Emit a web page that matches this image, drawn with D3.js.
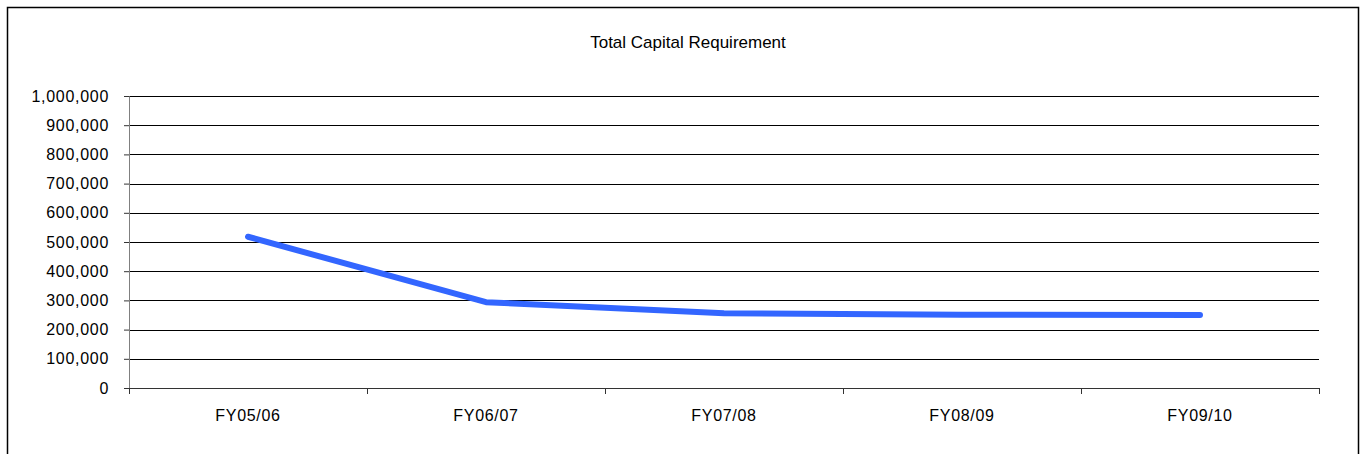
<!DOCTYPE html>
<html>
<head>
<meta charset="utf-8">
<script src="https://cdn.jsdelivr.net/npm/d3@7"></script>
<style>
  body { margin: 0; background: #fff; }
  text { font-family: "Liberation Sans", Arial, sans-serif; fill: #000; }
</style>
</head>
<body>
<script>
// data
var years = ["FY05/06", "FY06/07", "FY07/08", "FY08/09", "FY09/10"];
var capital = [518000, 294000, 256000, 251000, 250000];
var yTicks = [0, 100000, 200000, 300000, 400000, 500000, 600000, 700000, 800000, 900000, 1000000];

var W = 1360, H = 454;
var margin = { top: 96, right: 41, bottom: 66, left: 129 },
    width = W - margin.left - margin.right,
    height = H - margin.top - margin.bottom;

var svg = d3.select("body").append("svg")
    .attr("width", W)
    .attr("height", H);

// outer frame
svg.append("rect")
    .attr("x", 7.5).attr("y", 7.5)
    .attr("width", 1351).attr("height", 470)
    .attr("fill", "none")
    .attr("stroke", "#000")
    .attr("stroke-width", 1.5);

svg.append("text")
    .attr("x", 688).attr("y", 48)
    .attr("text-anchor", "middle")
    .style("font-size", "17px")
    .text("Total Capital Requirement");

var g = svg.append("g")
    .attr("transform", "translate(" + margin.left + "," + margin.top + ")");

var x = d3.scaleBand().domain(years).range([0, width]);
var y = d3.scaleLinear().domain([0, 1000000]).range([height, 0]);

// grid lines
g.selectAll(".grid")
    .data(yTicks)
    .enter().append("line")
    .attr("class", "grid")
    .attr("x1", 0).attr("x2", width)
    .attr("y1", function(d) { return Math.round(y(d)) + 0.5; })
    .attr("y2", function(d) { return Math.round(y(d)) + 0.5; })
    .attr("stroke", "#000")
    .attr("stroke-width", 1);

var yAxis = d3.axisLeft(y)
    .tickValues(yTicks)
    .tickSize(5)
    .tickPadding(15)
    .tickFormat(d3.format(","));

var gy = g.append("g").attr("class", "y axis").call(yAxis);
gy.select(".domain").attr("stroke", "#808080");
gy.selectAll(".tick line").attr("stroke", "#333");
gy.selectAll("text")
    .style("font-size", "16px")
    .style("letter-spacing", "0.7px")
    .attr("font-family", null);

// x axis, ticks on band edges
var gx = g.append("g")
    .attr("class", "x axis")
    .attr("transform", "translate(0," + height + ")");
gx.append("line")
    .attr("x1", 0).attr("x2", width)
    .attr("y1", 0.5).attr("y2", 0.5)
    .attr("stroke", "#333");
gx.selectAll(".edge")
    .data(d3.range(years.length + 1))
    .enter().append("line")
    .attr("class", "edge")
    .attr("x1", function(i) { return Math.round(i * x.step()) + 0.5; })
    .attr("x2", function(i) { return Math.round(i * x.step()) + 0.5; })
    .attr("y1", 0).attr("y2", 6)
    .attr("stroke", "#333");
gx.selectAll(".lbl")
    .data(years)
    .enter().append("text")
    .attr("class", "lbl")
    .attr("x", function(d) { return x(d) + x.bandwidth() / 2; })
    .attr("y", 33)
    .attr("text-anchor", "middle")
    .style("font-size", "16px")
    .style("letter-spacing", "0.7px")
    .text(function(d) { return d; });

// series line
var line = d3.line()
    .x(function(d, i) { return x(years[i]) + x.bandwidth() / 2; })
    .y(function(d) { return y(d); });

g.append("path")
    .datum(capital)
    .attr("fill", "none")
    .attr("stroke", "#3366ff")
    .attr("stroke-width", 6)
    .attr("stroke-linecap", "round")
    .attr("stroke-linejoin", "round")
    .attr("d", line);
</script>
</body>
</html>
